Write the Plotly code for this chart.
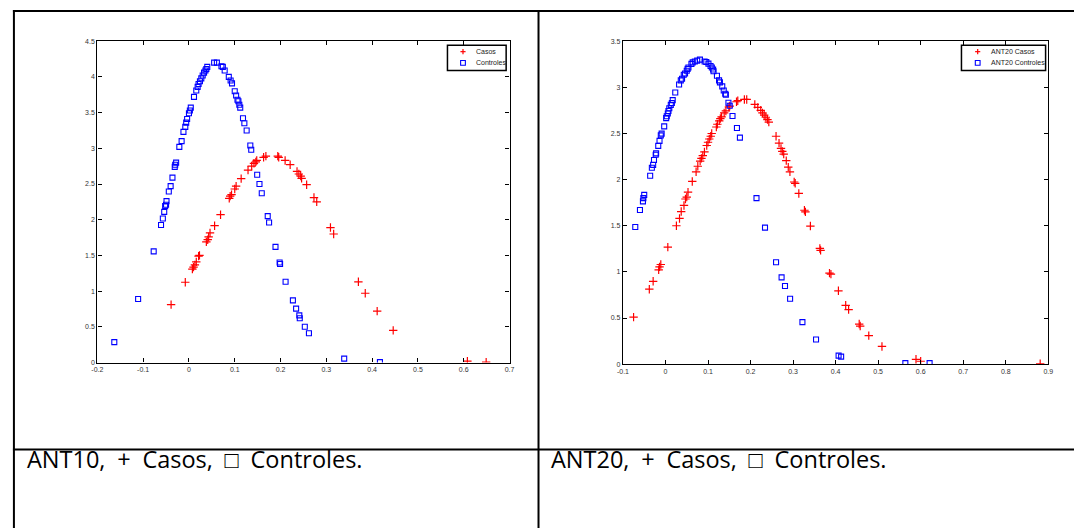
import plotly.graph_objects as go

W, H = 1079, 531

# ---------------- data: ANT10 ----------------
ant10_casos_x = [
    -0.039, -0.008, 0.0075, 0.010, 0.013, 0.016, 0.021, 0.023, 0.038, 0.041,
    0.043, 0.046, 0.056, 0.069, 0.088, 0.090, 0.093, 0.100, 0.103, 0.114,
    0.129, 0.137, 0.142, 0.146, 0.148, 0.163, 0.168, 0.194, 0.196, 0.210,
    0.221, 0.236, 0.240, 0.244, 0.246, 0.257, 0.273, 0.279, 0.309, 0.316,
    0.370, 0.385, 0.411, 0.446, 0.608, 0.649,
]
ant10_casos_y = [
    0.810, 1.124, 1.308, 1.336, 1.368, 1.410, 1.490, 1.500, 1.690, 1.720,
    1.760, 1.815, 1.916, 2.070, 2.300, 2.330, 2.350, 2.430, 2.470, 2.575,
    2.695, 2.750, 2.790, 2.810, 2.830, 2.874, 2.890, 2.890, 2.874, 2.830,
    2.770, 2.676, 2.640, 2.610, 2.580, 2.490, 2.310, 2.250, 1.890, 1.800,
    1.130, 0.970, 0.720, 0.450, 0.020, 0.005,
]
ant10_ctrl_x = [
    -0.163, -0.111, -0.077, -0.061, -0.057, -0.054, -0.052, -0.050, -0.049, -0.044,
    -0.040, -0.036, -0.031, -0.030, -0.028, -0.021, -0.016, -0.012, -0.008, -0.006,
    -0.004, 0.000, 0.002, 0.004, 0.011, 0.016, 0.019, 0.021, 0.024, 0.027,
    0.030, 0.033, 0.036, 0.038, 0.040, 0.055, 0.061, 0.071, 0.074, 0.078,
    0.087, 0.091, 0.094, 0.100, 0.103, 0.106, 0.108, 0.110, 0.112, 0.118,
    0.121, 0.126, 0.134, 0.136, 0.149, 0.154, 0.159, 0.172, 0.175, 0.189,
    0.198, 0.199, 0.211, 0.227, 0.234, 0.241, 0.242, 0.253, 0.262, 0.339,
    0.417,
]
ant10_ctrl_y = [
    0.286, 0.889, 1.557, 1.925, 2.017, 2.110, 2.190, 2.210, 2.260, 2.395,
    2.470, 2.590, 2.740, 2.770, 2.800, 3.020, 3.100, 3.230, 3.300, 3.360,
    3.410, 3.490, 3.530, 3.570, 3.720, 3.810, 3.860, 3.900, 3.940, 3.980,
    4.020, 4.060, 4.090, 4.110, 4.140, 4.200, 4.200, 4.150, 4.140, 4.090,
    4.000, 3.950, 3.910, 3.800, 3.740, 3.680, 3.660, 3.610, 3.570, 3.420,
    3.350, 3.250, 3.040, 2.980, 2.630, 2.500, 2.370, 2.050, 1.960, 1.620,
    1.400, 1.380, 1.130, 0.870, 0.755, 0.660, 0.620, 0.500, 0.410, 0.055,
    0.005,
]

# ---------------- data: ANT20 ----------------
ant20_casos_x = [
    -0.075, -0.038, -0.029, -0.016, -0.014, -0.011, 0.0055, 0.0257, 0.033, 0.037,
    0.0435, 0.047, 0.050, 0.053, 0.063, 0.072, 0.076, 0.0815, 0.0846, 0.0877,
    0.0916, 0.097, 0.100, 0.103, 0.1064, 0.1087, 0.1196, 0.122, 0.1265, 0.129,
    0.132, 0.138, 0.142, 0.149, 0.151, 0.167, 0.170, 0.1855, 0.191, 0.210,
    0.217, 0.224, 0.228, 0.232, 0.236, 0.2398, 0.243, 0.260, 0.267, 0.2716,
    0.2747, 0.278, 0.284, 0.2887, 0.2926, 0.3026, 0.305, 0.3135, 0.3267, 0.329,
    0.3407, 0.363, 0.3647, 0.3856, 0.389, 0.4066, 0.4237, 0.4306, 0.4555, 0.4578,
    0.478, 0.509, 0.589, 0.600, 0.881,
]
ant20_casos_y = [
    0.510, 0.8125, 0.898, 1.023, 1.055, 1.080, 1.269, 1.500, 1.579, 1.654,
    1.720, 1.790, 1.810, 1.864, 1.980, 2.085, 2.145, 2.200, 2.230, 2.260,
    2.300, 2.370, 2.405, 2.440, 2.470, 2.500, 2.570, 2.600, 2.637, 2.662,
    2.680, 2.723, 2.744, 2.787, 2.797, 2.844, 2.855, 2.869, 2.869, 2.815,
    2.783, 2.751, 2.723, 2.700, 2.676, 2.651, 2.623, 2.470, 2.395, 2.338,
    2.306, 2.277, 2.206, 2.135, 2.085, 1.974, 1.960, 1.850, 1.668, 1.650,
    1.497, 1.254, 1.233, 0.987, 0.976, 0.795, 0.638, 0.592, 0.435, 0.413,
    0.310, 0.192, 0.053, 0.032, 0.004,
]
ant20_ctrl_x = [
    -0.071, -0.060, -0.053, -0.052, -0.050, -0.036, -0.032, -0.029, -0.027, -0.023,
    -0.022, -0.017, -0.014, -0.011, -0.009, -0.003, 0.0016, 0.003, 0.0055, 0.007,
    0.009, 0.0125, 0.015, 0.017, 0.023, 0.032, 0.036, 0.039, 0.043, 0.046,
    0.050, 0.052, 0.054, 0.061, 0.064, 0.069, 0.0746, 0.081, 0.092, 0.096,
    0.101, 0.106, 0.109, 0.112, 0.113, 0.121, 0.126, 0.128, 0.1335, 0.137,
    0.1405, 0.142, 0.148, 0.151, 0.1576, 0.168, 0.175, 0.214, 0.234, 0.260,
    0.273, 0.281, 0.293, 0.322, 0.354, 0.407, 0.413, 0.564, 0.621,
]
ant20_ctrl_y = [
    1.486, 1.671, 1.764, 1.800, 1.835, 2.042, 2.128, 2.160, 2.213, 2.270,
    2.284, 2.366, 2.420, 2.480, 2.498, 2.577, 2.666, 2.687, 2.716, 2.744,
    2.773, 2.810, 2.830, 2.862, 2.944, 3.030, 3.075, 3.093, 3.136, 3.150,
    3.180, 3.200, 3.215, 3.254, 3.270, 3.280, 3.290, 3.300, 3.280, 3.275,
    3.257, 3.232, 3.215, 3.193, 3.175, 3.125, 3.075, 3.054, 3.010, 2.965,
    2.930, 2.920, 2.833, 2.800, 2.690, 2.560, 2.455, 1.800, 1.480, 1.105,
    0.941, 0.848, 0.709, 0.456, 0.267, 0.093, 0.082, 0.011, 0.011,
]

# ---------------- ticks ----------------
ant10_xticks = [-0.2, -0.1, 0, 0.1, 0.2, 0.3, 0.4, 0.5, 0.6, 0.7]
ant10_xticklabels = ["-0.2", "-0.1", "0", "0.1", "0.2", "0.3", "0.4", "0.5", "0.6", "0.7"]
ant10_yticks = [0, 0.5, 1, 1.5, 2, 2.5, 3, 3.5, 4, 4.5]
ant10_yticklabels = ["0", "0.5", "1", "1.5", "2", "2.5", "3", "3.5", "4", "4.5"]
ant20_xticks = [-0.1, 0, 0.1, 0.2, 0.3, 0.4, 0.5, 0.6, 0.7, 0.8, 0.9]
ant20_xticklabels = ["-0.1", "0", "0.1", "0.2", "0.3", "0.4", "0.5", "0.6", "0.7", "0.8", "0.9"]
ant20_yticks = [0, 0.5, 1, 1.5, 2, 2.5, 3, 3.5]
ant20_yticklabels = ["0", "0.5", "1", "1.5", "2", "2.5", "3", "3.5"]

legend_left = ["Casos", "Controles"]
legend_right = ["ANT20 Casos", "ANT20 Controles"]
caption_words = [["ANT10,", "+", "Casos,", "\u25a1", "Controles."],
                 ["ANT20,", "+", "Casos,", "\u25a1", "Controles."]]

RED = "#ff0000"
BLUE = "#0000ff"


def px(x):
    return x / W


def py(y):
    return 1 - y / H


fig = go.Figure()

plus_marker = dict(symbol="cross-thin", size=6, color=RED, line=dict(color=RED, width=1.2))
sq_marker = dict(symbol="square-open", size=5, color=BLUE, line=dict(color=BLUE, width=1.1))

fig.add_trace(go.Scatter(x=ant10_casos_x, y=ant10_casos_y, mode="markers", marker=plus_marker,
                         name=legend_left[0], xaxis="x", yaxis="y"))
fig.add_trace(go.Scatter(x=ant10_ctrl_x, y=ant10_ctrl_y, mode="markers", marker=sq_marker,
                         name=legend_left[1], xaxis="x", yaxis="y"))
fig.add_trace(go.Scatter(x=ant20_casos_x, y=ant20_casos_y, mode="markers", marker=plus_marker,
                         name=legend_right[0], xaxis="x2", yaxis="y2"))
fig.add_trace(go.Scatter(x=ant20_ctrl_x, y=ant20_ctrl_y, mode="markers", marker=sq_marker,
                         name=legend_right[1], xaxis="x2", yaxis="y2"))

tickfont = dict(family="Liberation Sans, Arial, sans-serif", size=7, color="#333333")
axis_common = dict(ticks="inside", ticklen=4, tickwidth=1, tickcolor="black",
                   showline=True, linecolor="black", linewidth=1.3, mirror="ticks",
                   showgrid=False, zeroline=False, tickfont=tickfont, autorange=False,
                   tickmode="array")

fig.update_layout(
    width=W, height=H,
    margin=dict(l=0, r=0, t=0, b=0),
    paper_bgcolor="white", plot_bgcolor="white",
    showlegend=False,
    xaxis=dict(domain=[px(92.3), px(508.7)], range=[-0.2, 0.7], anchor="y",
               tickvals=ant10_xticks, ticktext=ant10_xticklabels, **axis_common),
    yaxis=dict(domain=[py(363.3), py(37.7)], range=[0, 4.5], anchor="x",
               tickvals=ant10_yticks, ticktext=ant10_yticklabels, **axis_common),
    xaxis2=dict(domain=[px(623.3), px(1053)], range=[-0.1, 0.9], anchor="y2",
                tickvals=ant20_xticks, ticktext=ant20_xticklabels, **axis_common),
    yaxis2=dict(domain=[py(365), py(37.7)], range=[0, 3.5], anchor="x2",
                tickvals=ant20_yticks, ticktext=ant20_yticklabels, **axis_common),
)

shapes = []
annotations = []

# table borders
LW = 2
shapes.append(dict(type="line", xref="paper", yref="paper", x0=px(7), x1=px(W), y0=py(7), y1=py(7),
                   line=dict(color="black", width=LW)))
shapes.append(dict(type="line", xref="paper", yref="paper", x0=px(8), x1=px(8), y0=py(6), y1=py(H),
                   line=dict(color="black", width=LW)))
shapes.append(dict(type="line", xref="paper", yref="paper", x0=px(538), x1=px(538), y0=py(6), y1=py(H),
                   line=dict(color="black", width=LW)))
shapes.append(dict(type="line", xref="paper", yref="paper", x0=px(7), x1=px(W), y0=py(451.5), y1=py(451.5),
                   line=dict(color="black", width=LW)))


def add_legend(box, mx, tx, labels):
    x0, x1, y0, y1 = box
    shapes.append(dict(type="rect", xref="paper", yref="paper", x0=px(x0), x1=px(x1), y0=py(y0), y1=py(y1),
                       line=dict(color="black", width=1.5), fillcolor="white", layer="above"))
    r1, r2 = 48.3, 59.6
    # plus symbol
    shapes.append(dict(type="line", xref="paper", yref="paper", x0=px(mx - 2.6), x1=px(mx + 2.6),
                       y0=py(r1), y1=py(r1), line=dict(color=RED, width=1.2)))
    shapes.append(dict(type="line", xref="paper", yref="paper", x0=px(mx), x1=px(mx),
                       y0=py(r1 - 2.6), y1=py(r1 + 2.6), line=dict(color=RED, width=1.2)))
    # square symbol
    shapes.append(dict(type="rect", xref="paper", yref="paper", x0=px(mx - 2.4), x1=px(mx + 2.4),
                       y0=py(r2 - 2.4), y1=py(r2 + 2.4), line=dict(color=BLUE, width=1.1)))
    for lab, ry in zip(labels, (r1, r2)):
        annotations.append(dict(text=lab, xref="paper", yref="paper", x=px(tx), y=py(ry),
                                xanchor="left", yanchor="middle", showarrow=False,
                                font=dict(family="Liberation Sans, Arial, sans-serif", size=7, color="#222222")))


add_legend((446, 505.3, 41.7, 67.3), 461.7, 472.5, legend_left)
add_legend((965.3, 1050.3, 41.7, 67.3), 981.7, 992.8, legend_right)

# captions (words joined with en spaces to match the wide word spacing of the original)
for words, cx in zip(caption_words, (19, 548.5)):
    annotations.append(dict(text="\u2002".join(words), xref="paper", yref="paper", x=px(cx), y=py(461),
                            xanchor="left", yanchor="middle", showarrow=False,
                            font=dict(family="Open Sans, sans-serif", size=23.5, color="black")))

fig.update_layout(shapes=shapes, annotations=annotations)

fig.write_html("out.html")
